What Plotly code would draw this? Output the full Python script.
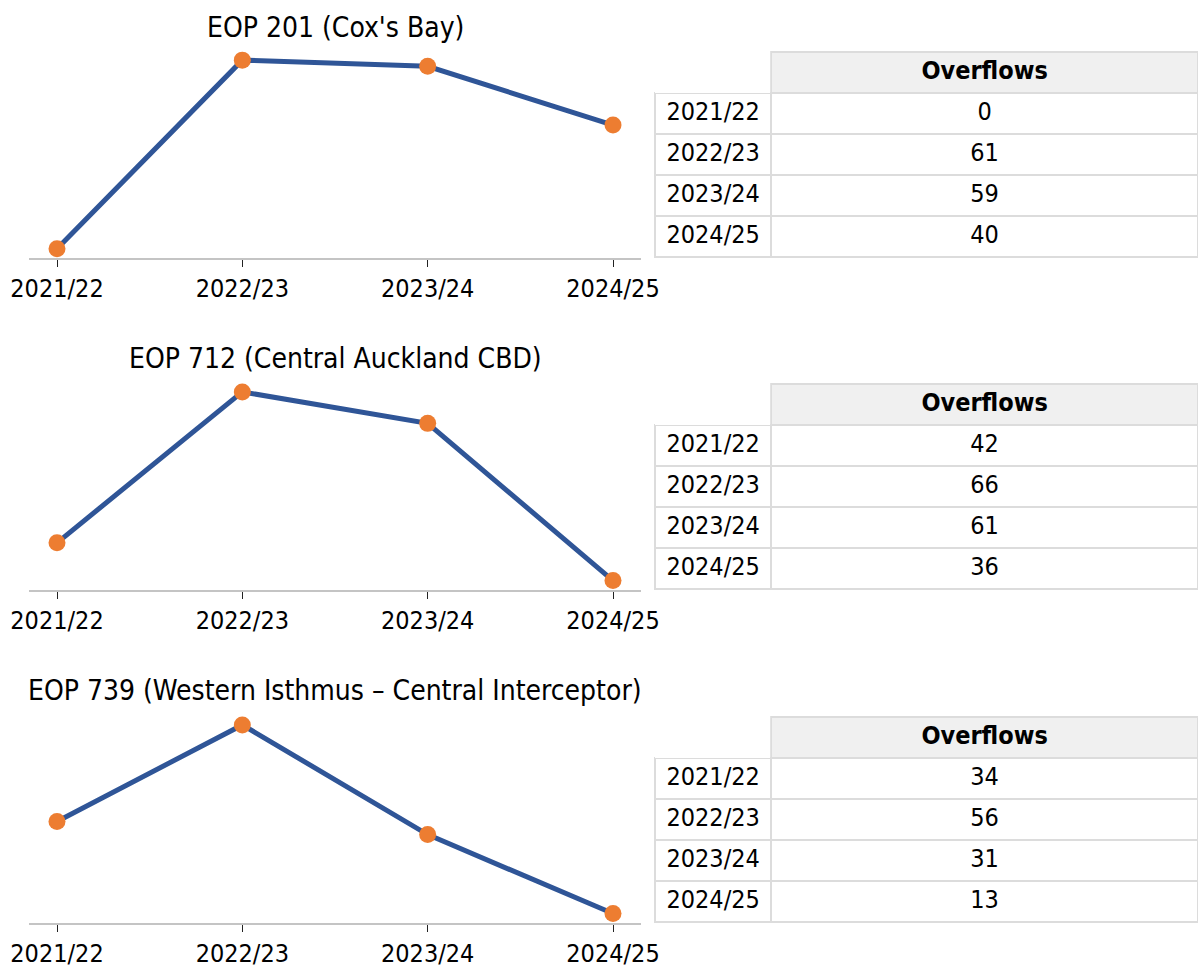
import plotly.graph_objects as go

# ---- data ----
years = ["2021/22", "2022/23", "2023/24", "2024/25"]
titles = [
    "EOP 201 (Cox's Bay)",
    "EOP 712 (Central Auckland CBD)",
    "EOP 739 (Western Isthmus – Central Interceptor)",
]
eop201 = [0, 61, 59, 40]
eop712 = [42, 66, 61, 36]
eop739 = [34, 56, 31, 13]
series = [eop201, eop712, eop739]
table_header = ["", "Overflows"]

# ---- layout constants (pixels) ----
W, H = 1198, 970
FONT = "DejaVu Sans Condensed, DejaVu Sans, sans-serif"
LINE = "#2F5597"
MARK = "#ED7D31"
plot_top = [50.7, 382.5, 715.5]
plot_h = 207.5
x_left, x_right = 29.2, 640.8
tbl_left = 655
tbl_top = [52, 384, 717]
row_h = 41
title_y = [27, 358, 690]

fig = go.Figure()
annotations = []
for i, vals in enumerate(series):
    n = i + 1
    fig.add_trace(go.Scatter(
        x=years, y=vals, mode="lines+markers",
        line=dict(color=LINE, width=5),
        marker=dict(color=MARK, size=17),
        xaxis=f"x{n}", yaxis=f"y{n}", showlegend=False, cliponaxis=False,
    ))
    lo, hi = min(vals), max(vals)
    pad = 0.05 * (hi - lo)
    top = plot_top[i]
    fig.update_layout(**{
        f"xaxis{n}": dict(
            domain=[x_left / W, x_right / W], anchor=f"y{n}",
            type="category", range=[-0.15, 3.15], automargin=False,
            showline=True, linecolor="#c4c4c4", linewidth=1.5,
            ticks="outside", ticklen=7, tickwidth=1.2, tickcolor="#222",
            tickfont=dict(family=FONT, size=25, color="black"),
            showgrid=False, zeroline=False, fixedrange=True,
        ),
        f"yaxis{n}": dict(
            domain=[1 - (top + plot_h) / H, 1 - top / H], anchor=f"x{n}",
            range=[lo - pad, hi + pad], visible=False, fixedrange=True,
            automargin=False,
        ),
    })
    annotations.append(dict(
        text=titles[i], x=(x_left + x_right) / 2 / W, y=1 - title_y[i] / H,
        xref="paper", yref="paper", xanchor="center", yanchor="middle",
        showarrow=False, font=dict(family=FONT, size=28, color="black"),
    ))
    ttop = tbl_top[i]
    fig.add_trace(go.Table(
        domain=dict(x=[tbl_left / W, 1.0], y=[1 - (ttop + 5 * row_h + 10) / H, 1 - ttop / H]),
        columnwidth=[116, 426],
        header=dict(
            values=table_header, height=row_h, align="center",
            fill=dict(color=["white", "#f0f0f0"]),
            line=dict(color=["rgba(0,0,0,0)", "#dcdcdc"], width=1.5),
            font=dict(family=FONT, size=25, color="black", weight="bold"),
        ),
        cells=dict(
            values=[years, vals], height=row_h, align="center",
            fill=dict(color="white"),
            line=dict(color="#dcdcdc", width=1.5),
            font=dict(family=FONT, size=25, color="black"),
        ),
    ))

fig.update_layout(
    width=W, height=H, autosize=False,
    margin=dict(l=0, r=0, t=0, b=0, pad=0, autoexpand=False),
    paper_bgcolor="white", plot_bgcolor="white",
    annotations=annotations, font=dict(family=FONT),
)
fig.write_html(
    "out.html",
    config={"responsive": False, "displayModeBar": False},
    post_script="document.body.style.margin='0';document.body.style.overflow='hidden';",
)
